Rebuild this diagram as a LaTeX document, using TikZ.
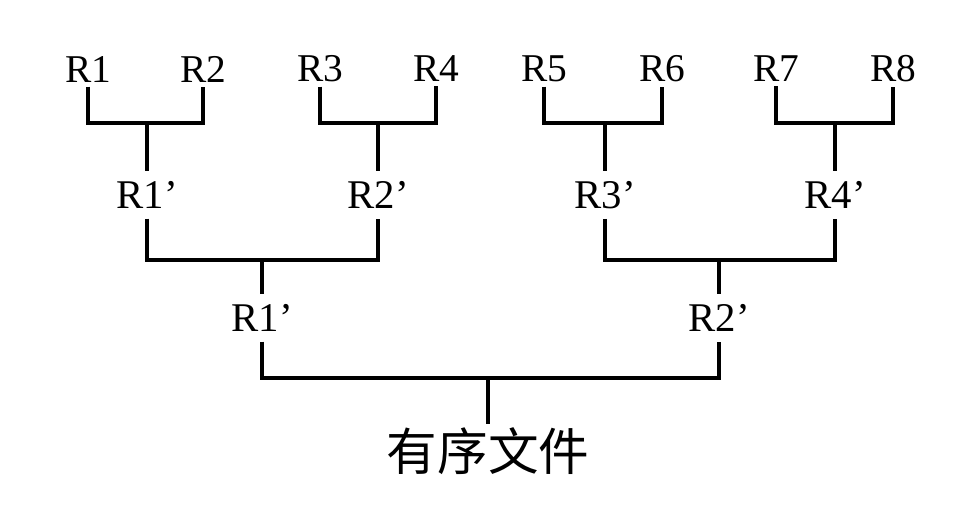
\documentclass[tikz,border=0pt]{standalone}
\usepackage{fontspec}
\setmainfont{Liberation Serif}
\newfontfamily\cjk{Noto Sans CJK SC}
\usetikzlibrary{positioning}
\tikzset{
    leaf/.style={
           inner xsep=2pt,
           inner ysep=3pt,
           font=\fontsize{28}{30}\selectfont
           },
    run/.style={
           inner xsep=2pt,
           inner ysep=7pt,
           font=\fontsize{29}{31}\selectfont
           },
    result/.style={
           inner sep=2pt,
           font=\cjk\fontsize{36}{38}\selectfont
           },
    merge/.style={
           line width=2.2pt
           },
}

\begin{document}
\begin{tikzpicture}[x=0.025cm, y=-0.025cm]
   \useasboundingbox (0,0) rectangle (968,509);
   % records
   \node[leaf] (r1) at (88,69)  {R1};
   \node[leaf] (r2) at (203,69) {R2};
   \node[leaf] (r3) at (320,69) {R3};
   \node[leaf] (r4) at (436,69) {R4};
   \node[leaf] (r5) at (544,69) {R5};
   \node[leaf] (r6) at (662,69) {R6};
   \node[leaf] (r7) at (776,69) {R7};
   \node[leaf] (r8) at (893,69) {R8};

   % first merge
   \coordinate (j1) at (147,123);
   \coordinate (j2) at (378,123);
   \coordinate (j3) at (605,123);
   \coordinate (j4) at (835,123);
   \node[run] (a1) at (147,195) {R1’};
   \node[run] (a2) at (378,195) {R2’};
   \node[run] (a3) at (605,195) {R3’};
   \node[run] (a4) at (835,195) {R4’};

   % second merge
   \coordinate (k1) at (262,260);
   \coordinate (k2) at (719,260);
   \node[run] (b1) at (262,318) {R1’};
   \node[run] (b2) at (719,318) {R2’};

   % last merge
   \coordinate (m) at (488,378);
   \node[result] (f) at (488,451) {有序文件};

   \draw[merge] (r1.south) |- (j1) -| (r2.south);
   \draw[merge] (r3.south) |- (j2) -| (r4.south);
   \draw[merge] (r5.south) |- (j3) -| (r6.south);
   \draw[merge] (r7.south) |- (j4) -| (r8.south);
   \draw[merge] (j1) -- (a1.north);
   \draw[merge] (j2) -- (a2.north);
   \draw[merge] (j3) -- (a3.north);
   \draw[merge] (j4) -- (a4.north);

   \draw[merge] (a1.south) |- (k1) -| (a2.south);
   \draw[merge] (a3.south) |- (k2) -| (a4.south);
   \draw[merge] (k1) -- (b1.north);
   \draw[merge] (k2) -- (b2.north);

   \draw[merge] (b1.south) |- (m) -| (b2.south);
   \draw[merge] (m) -- (f.north);
\end{tikzpicture}
\end{document}
